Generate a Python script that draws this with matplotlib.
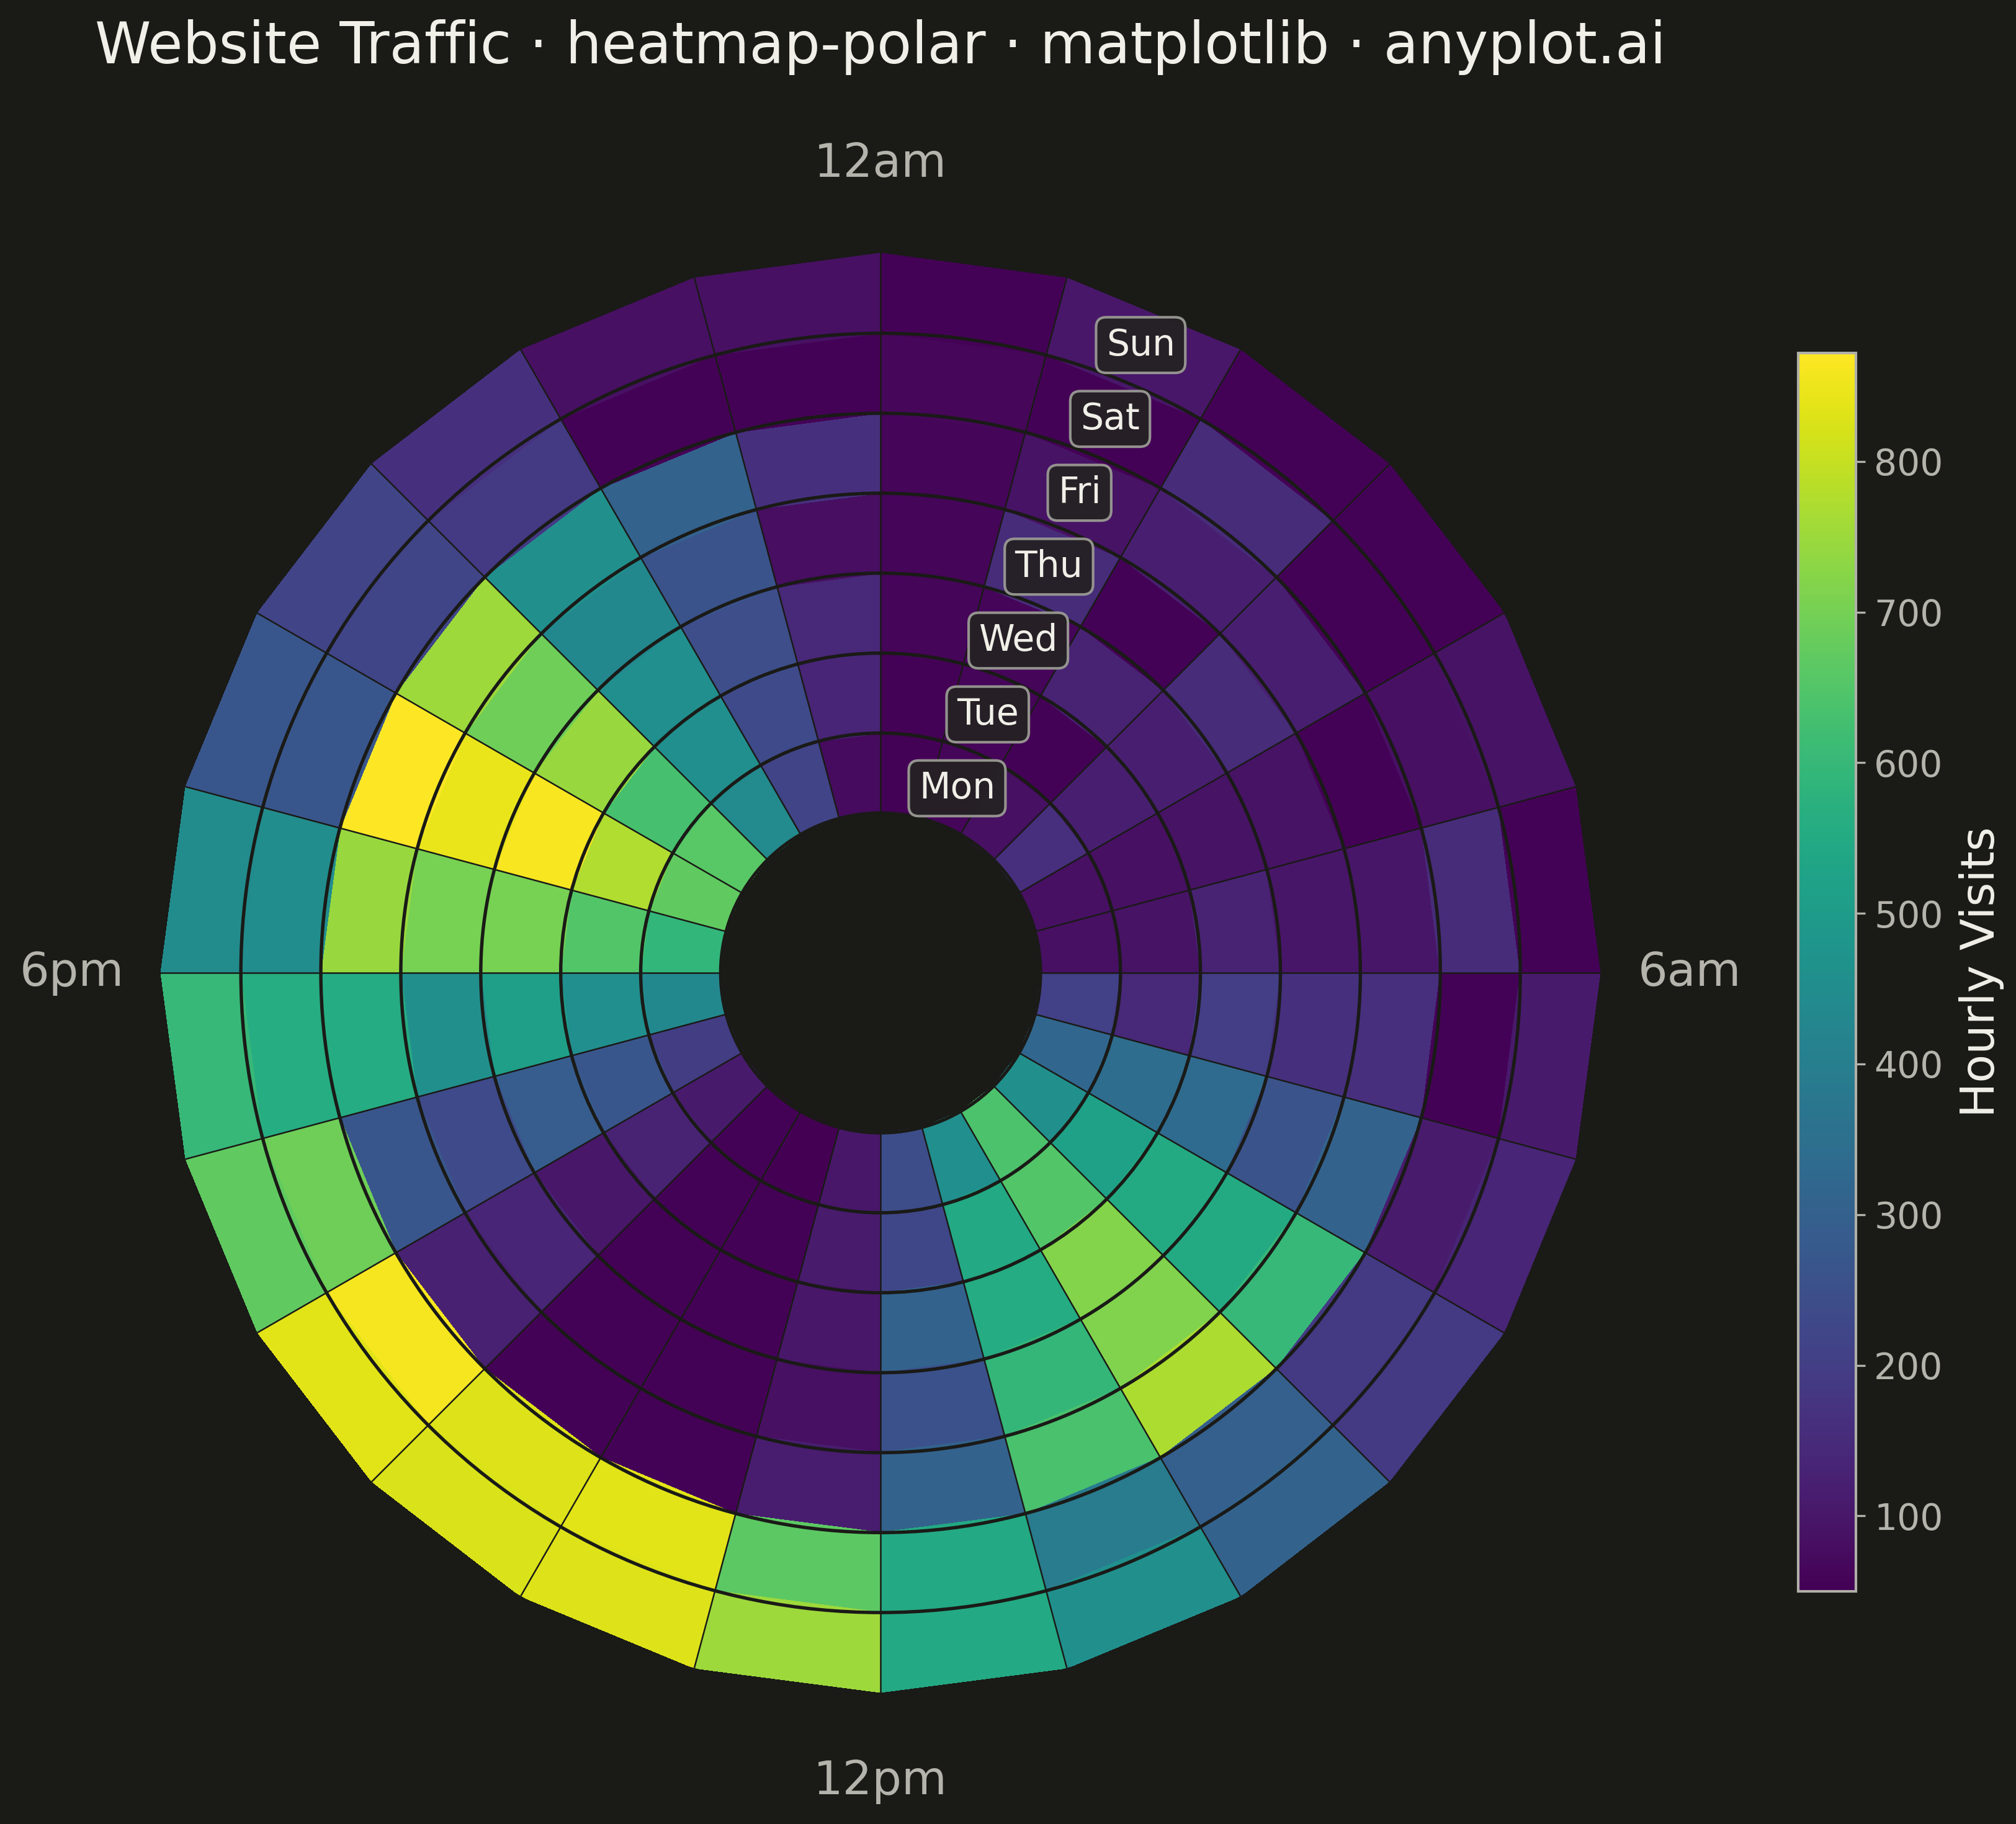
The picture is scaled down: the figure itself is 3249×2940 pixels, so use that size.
import numpy as np
import matplotlib
matplotlib.use("Agg")
import matplotlib.pyplot as plt

# ---------------- data ----------------
days = ["Mon", "Tue", "Wed", "Thu", "Fri", "Sat", "Sun"]
hours = list(range(24))
hour_labels = {0: "12am", 6: "6am", 12: "12pm", 18: "6pm"}

mon = [55, 60, 85, 160, 85, 85, 205, 320, 460, 640, 455, 240, 100, 50, 55, 105, 195, 435, 590, 670, 660, 440, 215, 75]
tue = [55, 60, 55, 120, 85, 90, 140, 340, 520, 650, 545, 225, 110, 55, 55, 130, 270, 455, 650, 775, 630, 455, 235, 135]
wed = [60, 60, 130, 120, 90, 130, 200, 335, 550, 720, 555, 305, 100, 55, 55, 100, 290, 510, 705, 865, 745, 455, 245, 140]
thu = [60, 150, 55, 150, 90, 95, 165, 260, 550, 715, 595, 255, 85, 55, 55, 135, 235, 460, 705, 845, 690, 435, 260, 80]
fri = [60, 90, 120, 120, 55, 95, 160, 310, 600, 770, 635, 305, 115, 55, 55, 125, 270, 555, 745, 872, 750, 460, 305, 165]
sat = [65, 55, 150, 55, 85, 150, 55, 110, 185, 295, 390, 545, 665, 835, 830, 860, 690, 560, 450, 270, 220, 185, 55, 55]
sun = [55, 100, 55, 55, 90, 55, 105, 135, 185, 310, 460, 545, 750, 830, 825, 835, 670, 600, 445, 270, 215, 165, 85, 85]

values = np.array([mon, tue, wed, thu, fri, sat, sun], dtype=float)

# ---------------- style ----------------
BG = "#1a1a17"
TXT = "#f0efe8"
MUTED = "#b4b4ac"

fig = plt.figure(figsize=(3249 / 300, 2940 / 300), dpi=300, facecolor=BG)
ax = fig.add_axes([0.0798, 0.0721, 0.714, 0.789], projection="polar", facecolor=BG)

inner = 2
theta_edges = np.linspace(0, 2 * np.pi, len(hours) + 1)
r_edges = np.arange(inner, inner + len(days) + 1)

mesh = ax.pcolormesh(theta_edges, r_edges, values, cmap="viridis", shading="flat",
                     vmin=values.min(), vmax=values.max())

ax.set_theta_zero_location("N")
ax.set_theta_direction(-1)
ax.set_ylim(0, inner + len(days))

ax.set_yticks(np.arange(inner, inner + len(days)))
ax.set_yticklabels([])
ax.set_xticks(theta_edges[:-1])
ax.set_xticklabels([hour_labels.get(h, "") for h in hours])
ax.tick_params(axis="x", colors=MUTED, labelsize=18, pad=27.5, length=0)
ax.tick_params(axis="y", length=0)
ax.xaxis.grid(True, color=BG, linewidth=0.6)
ax.yaxis.grid(True, color=BG, linewidth=1.3)
ax.spines["polar"].set_visible(False)

# day labels along the 1-2am wedge
label_theta = (1 + 0.5) * 2 * np.pi / len(hours)
for i, d in enumerate(days):
    ax.text(label_theta, inner + i + 0.5, d, ha="center", va="center",
            fontsize=14, color=TXT, zorder=5,
            bbox=dict(boxstyle="round,pad=0.28", facecolor="#252124",
                      edgecolor="#9a9a94", linewidth=1.0, alpha=0.95))

# colorbar
cax = fig.add_axes([0.8920, 0.1276, 0.0286, 0.6789])
cbar = fig.colorbar(mesh, cax=cax)
cbar.outline.set_edgecolor("#b0b0a8")
cbar.outline.set_linewidth(1.0)
cax.tick_params(colors=MUTED, labelsize=14, length=3.5, width=0.8)
cbar.set_label("Hourly Visits", fontsize=18, color=TXT, labelpad=6)

fig.text(0.4368, 0.9653, "Website Traffic · heatmap-polar · matplotlib · anyplot.ai",
         ha="center", va="baseline", fontsize=22, color=TXT)

fig.savefig("out.png", dpi=300, facecolor=BG)
